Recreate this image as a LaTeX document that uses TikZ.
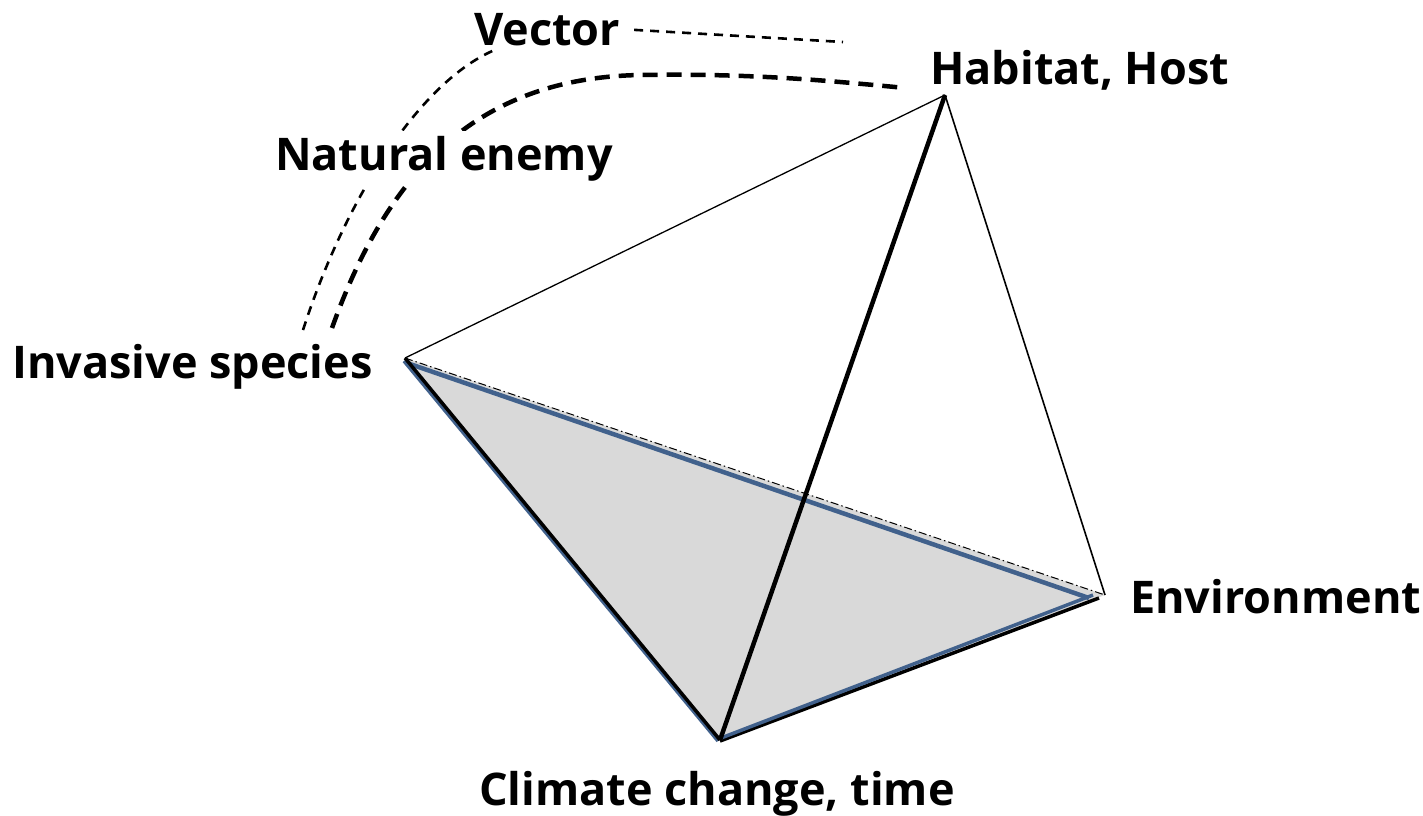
\documentclass[tikz,border=0pt]{standalone}
\usepackage{fontspec}
\setmainfont{Open Sans}
\usetikzlibrary{calc}
\definecolor{TetGray}{HTML}{D9D9D9}
\definecolor{TetBlue}{HTML}{41618C}
\tikzset{
  lbl/.style={font=\fontsize{45}{52}\selectfont\bfseries,inner sep=2pt},
  thindash/.style={line width=2.6pt,dash pattern=on 9pt off 7pt},
  thickdash/.style={line width=4.5pt,dash pattern=on 15pt off 9pt},
}

\begin{document}
\begin{tikzpicture}[x=1pt,y=-1pt]
\path[use as bounding box] (0,0) rectangle (1423,815);
\fill[white] (0,0) rectangle (1423,815);
% corners of the tetrahedron
\coordinate (inv) at (405,358);
\coordinate (hab) at (945,95);
\coordinate (env) at (1105,595);
\coordinate (clim) at (720,740);
% ends of the dashed links
\coordinate (thinfoot) at (303,330);
\coordinate (thickfoot) at (332,328);
\coordinate (vecfoot) at (497,49);
\coordinate (vecend) at (843,42);
\coordinate (habend) at (906,88);
% base face
\fill[TetGray] (inv) -- (clim) -- (env) -- cycle;
\draw[TetBlue,line width=4.5pt] ($(inv)+(2,5)$) -- ($(env)+(-16,3)$);
\draw[line width=1pt,dash pattern=on 8pt off 3pt on 1.5pt off 3pt] (inv) -- (env);
\draw[TetBlue,line width=3.5pt] ($(inv)+(-1,3)$) -- ($(clim)+(-2,1)$);
\draw[line width=3.5pt] (inv) -- (clim);
\draw[line width=3.5pt] ($(clim)+(0,1)$) -- ($(env)+(-6,3)$);
\draw[TetBlue,line width=3.5pt] ($(clim)+(1,-2)$) -- ($(env)+(-12,0)$);
% edges to the top corner
\draw[line width=1.3pt] (inv) -- (hab);
\draw[line width=1.6pt] (hab) -- (env);
\draw[line width=4.5pt] (hab) -- (clim);
% dashed links
\draw[thindash] (thinfoot) .. controls (345,200) and (420,80) .. (vecfoot);
\draw[thickdash] (thickfoot) .. controls (385,180) and (470,78) .. (640,75)
  .. controls (760,73) and (840,82) .. (habend);
% labels
\node[lbl,anchor=base] (vec) at (547,45) {Vector};
\node[lbl,anchor=base west] (habL) at (928,84) {Habitat, Host};
\node[lbl,anchor=base,fill=white,inner ysep=5pt] (nat) at (444,170) {Natural enemy};
\node[lbl,anchor=base west] (invL) at (10,378) {Invasive species};
\node[lbl,anchor=base west] (envL) at (1128,613) {Environment};
\node[lbl,anchor=base] (climL) at (717,805) {Climate change, time};
\draw[thindash,shorten <=12pt] (vec.east) -- (vecend);
\end{tikzpicture}
\end{document}
